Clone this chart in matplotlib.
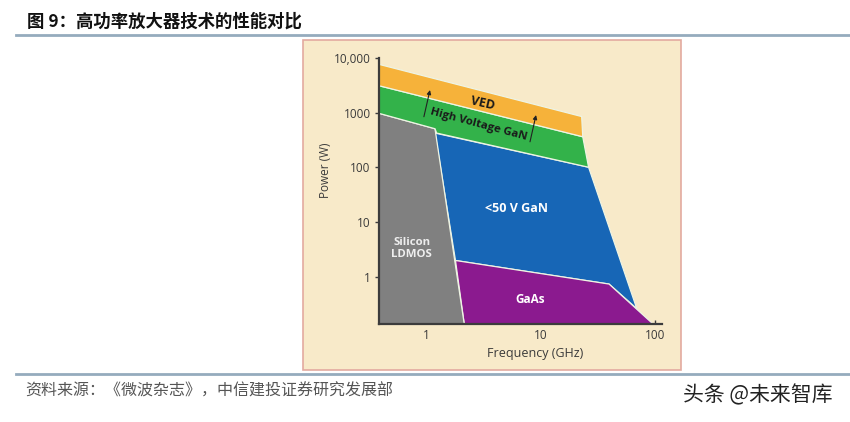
import matplotlib
matplotlib.use('Agg')
import matplotlib.pyplot as plt
from matplotlib.patches import Rectangle
from matplotlib.ticker import FixedLocator, NullLocator, FixedFormatter

# ------------------------------------------------------------------
# ------------------- Data -------------------
# ------------------------------------------------------------------
p_floor = 0.134  # power at the frequency axis (bottom of plot)

# region outlines (frequency GHz, power W)
ved_f = [0.39, 22.8, 23.3, 0.39]
ved_p = [7620, 846, 361, 3097]

hvgan_f = [0.39, 23.3, 26.2, 1.24, 1.20, 0.39]
hvgan_p = [3097, 361, 100, 422, 506, 968]

gan_f = [1.20, 26.2, 68.9, 39.5, 1.81]
gan_p = [422, 100, 0.26, 0.73, 1.97]

gaas_f = [1.81, 39.5, 96.2, 2.16]
gaas_p = [1.97, 0.73, p_floor, p_floor]

ldmos_f = [0.39, 1.20, 2.16, 0.39]
ldmos_p = [968, 506, p_floor, p_floor]

# arrows in the high-voltage GaN band (start, end)
arrow1 = [(0.96, 839), (1.085, 2583)]
arrow2 = [(8.08, 292), (9.12, 901)]

# labels: text, frequency, power, rotation, colour, size
region_labels = [
    ('VED', 3.15, 1494, -13, '#1a1a1a', 9),
    ('High Voltage GaN', 2.86, 591, -15, '#1a1a1a', 8.2),
    ('<50 V GaN', 6.22, 17.9, 0, 'white', 9),
    ('Silicon\nLDMOS', 0.751, 3.29, 0, '#eeeeee', 8.2),
    ('GaAs', 8.08, 0.383, 0, 'white', 8.5),
]

y_ticks = [1, 10, 100, 1000, 10000]
y_ticklabels = ['1', '10', '100', '1000', '10,000']
x_ticks = [1, 10, 100]
x_ticklabels = ['1', '10', '100']

title = '图 9：高功率放大器技术的性能对比'
source = '资料来源：《微波杂志》，中信建投证券研究发展部'
watermark = '头条 @未来智库'

cjk = ['Noto Sans CJK SC', 'DejaVu Sans']

# ------------------------------------------------------------------
# ------------------- Figure layout ---------------------------------
# ------------------------------------------------------------------
fig = plt.figure(figsize=(8.5, 4.22), dpi=100)
fig.patch.set_facecolor('white')

# beige panel behind the chart
fig.patches.append(Rectangle((0.3565, 0.1244), 0.4452, 0.7808, transform=fig.transFigure,
                             fc='#f8eac9', ec='#e3aaa0', lw=1.2, zorder=-5))
# separator lines
fig.add_artist(plt.Line2D([16 / 850, 1], [0.917, 0.917], color='#95abbd', lw=2))
fig.add_artist(plt.Line2D([16 / 850, 1], [0.1137, 0.1137], color='#95abbd', lw=2))

fig.text(27 / 850, 0.949, title, fontsize=12.5, fontweight='bold', color='#111111',
         family=cjk, va='center', ha='left')
fig.text(25 / 850, 0.0735, source, fontsize=11.5, color='#555555', family=cjk,
         va='center', ha='left')
fig.text(683 / 850, 0.064, watermark, fontsize=15, color='#222222', family=cjk,
         va='center', ha='left')

ax1 = fig.add_axes([0.4459, 0.2315, 0.333, 0.6313])
ax1.set_facecolor('none')
ax1.set_zorder(2)
ax1.set_xscale('log')
ax1.set_yscale('log')
ax1.set_xlim(0.39, 114.5)
ax1.set_ylim(p_floor, 10000)

# -------- Add regions -----------
edge = '#eef4e4'
ax1.fill(gan_f, gan_p, color='#1766b6', ec=edge, lw=0.9, zorder=2)
ax1.fill(gaas_f, gaas_p, color='#8b1a8f', ec=edge, lw=0.9, zorder=3)
ax1.fill(ldmos_f, ldmos_p, color='#808080', ec=edge, lw=0.9, zorder=4)
ax1.fill(hvgan_f, hvgan_p, color='#33b24a', ec=edge, lw=0.9, zorder=5)
ax1.fill(ved_f, ved_p, color='#f6b23a', ec=edge, lw=0.9, zorder=6)

for a in [arrow1, arrow2]:
    ax1.annotate('', xy=a[1], xytext=a[0],
                 arrowprops=dict(arrowstyle='-|>', color='#222222', lw=0.8,
                                 mutation_scale=6, shrinkA=0, shrinkB=0), zorder=8)

for txt, f, p, rot, c, fs in region_labels:
    ax1.text(f, p, txt, rotation=rot, color=c, fontsize=fs, fontweight='bold',
             family='Open Sans', ha='center', va='center', linespacing=1.1,
             rotation_mode='anchor', zorder=9)

# ------ Axes, ticks and labels --------
for axis in ['top', 'right']:
    ax1.spines[axis].set_visible(False)
for axis in ['left', 'bottom']:
    ax1.spines[axis].set_linewidth(1.6)
    ax1.spines[axis].set_color('#3c3c3c')
    ax1.spines[axis].set_zorder(10)

ax1.xaxis.set_major_locator(FixedLocator(x_ticks))
ax1.xaxis.set_major_formatter(FixedFormatter(x_ticklabels))
ax1.xaxis.set_minor_locator(NullLocator())
ax1.yaxis.set_major_locator(FixedLocator(y_ticks))
ax1.yaxis.set_major_formatter(FixedFormatter(y_ticklabels))
ax1.yaxis.set_minor_locator(NullLocator())

ax1.tick_params(axis='x', direction='in', length=3, width=1, colors='#3c3c3c', pad=3.5,
                labelsize=8.5, labelcolor='#3a3a3a')
ax1.tick_params(axis='y', direction='out', length=3, width=1, colors='#3c3c3c', pad=3,
                labelsize=8.5, labelcolor='#3a3a3a')
for lab in ax1.get_xticklabels() + ax1.get_yticklabels():
    lab.set_family('Open Sans')

ax1.text(0.551, -0.108, 'Frequency (GHz)', transform=ax1.transAxes, fontsize=9,
         color='#3a3a3a', family='Open Sans', ha='center', va='center')
ax1.text(-0.19, 0.58, 'Power (W)', transform=ax1.transAxes, fontsize=8.5, rotation=90,
         color='#3a3a3a', family='Open Sans', ha='center', va='center')

plt.savefig('out.png', dpi=100)
